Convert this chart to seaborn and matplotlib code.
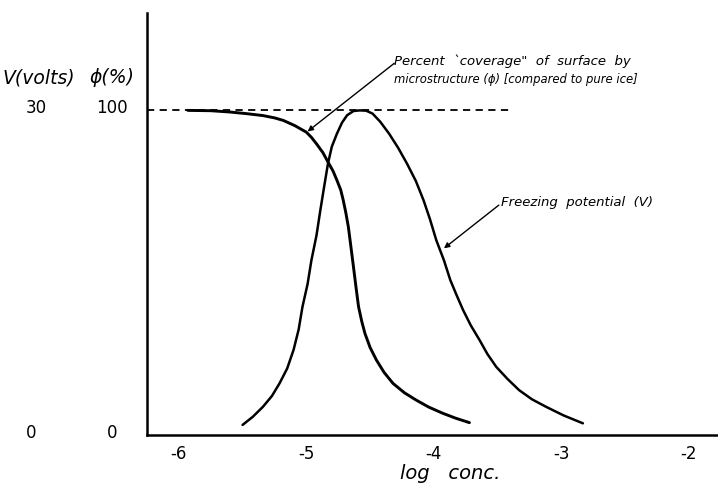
import matplotlib
matplotlib.use("Agg")
import matplotlib.pyplot as plt
import matplotlib.transforms as mtransforms
import pandas as pd
import seaborn as sns

# Percent coverage of surface by microstructure (phi), vs log concentration
phi_logc = [-5.93, -5.75, -5.60, -5.47, -5.34, -5.25, -5.18, -5.09, -5.00, -4.96,
            -4.92, -4.87, -4.83, -4.79, -4.76, -4.73, -4.71, -4.69, -4.67, -4.65,
            -4.63, -4.61, -4.59, -4.565, -4.54, -4.50, -4.45, -4.39, -4.32, -4.23,
            -4.14, -4.04, -3.93, -3.83, -3.72]
phi_pct = [100.0, 99.9, 99.5, 99.0, 98.4, 97.7, 96.9, 95.3, 93.3, 91.7,
           89.7, 87.0, 84.1, 81.3, 78.5, 75.5, 72.3, 68.5, 64.1, 58.0,
           51.8, 45.5, 39.5, 35.0, 31.3, 27.0, 23.1, 19.3, 15.9, 13.0,
           10.8, 8.6, 6.7, 5.2, 3.8]

# Freezing potential (V), on the shared 0-100 scale (30 V = 100)
v_logc = [-5.50, -5.42, -5.34, -5.27, -5.21, -5.15, -5.10, -5.06, -5.03, -4.99,
          -4.96, -4.92, -4.89, -4.86, -4.83, -4.80, -4.76, -4.72, -4.68, -4.63,
          -4.58, -4.53, -4.48, -4.42, -4.35, -4.28, -4.21, -4.14, -4.08, -4.03,
          -3.98, -3.92, -3.87, -3.82, -3.77, -3.71, -3.64, -3.58, -3.51, -3.42,
          -3.33, -3.23, -3.12, -2.98, -2.83]
v_pct = [3.1, 5.6, 8.7, 12.0, 15.9, 20.5, 26.2, 32.5, 39.5, 46.5,
         53.8, 61.5, 69.2, 76.5, 83.6, 88.8, 92.8, 96.2, 98.5, 99.8,
         100.0, 99.9, 99.0, 96.5, 92.8, 88.5, 83.6, 78.2, 72.3, 66.5,
         60.0, 53.8, 47.7, 43.0, 38.5, 33.8, 29.2, 25.0, 21.0, 17.2,
         13.8, 11.0, 8.7, 6.0, 3.6]

# Pure-ice reference level
ref_level = 100
ref_span = [-6.25, -3.39]

x_ticks = [-6, -5, -4, -3, -2]
x_ticklabels = ["-6", "-5", "-4", "-3", "-2"]
v_axis_labels = ["0", "30"]
phi_axis_labels = ["0", "100"]
label_levels = [0, 100]

sns.set_style("white")
plt.rcParams["font.family"] = ["DejaVu Sans"]
plt.rcParams["text.color"] = "black"
plt.rcParams["xtick.color"] = "black"
plt.rcParams["ytick.color"] = "black"

fig = plt.figure(figsize=(7.18, 4.87), dpi=100)
ax = fig.add_axes([0.2047, 0.1068, 0.7953, 0.8665])

phi_df = pd.DataFrame({"logc": phi_logc, "pct": phi_pct})
v_df = pd.DataFrame({"logc": v_logc, "pct": v_pct})
ref_df = pd.DataFrame({"logc": ref_span, "pct": [ref_level, ref_level]})

sns.lineplot(data=ref_df, x="logc", y="pct", ax=ax, color="black", lw=1.3,
             linestyle=(0, (4, 3)))
sns.lineplot(data=phi_df, x="logc", y="pct", ax=ax, color="black", lw=2.1)
sns.lineplot(data=v_df, x="logc", y="pct", ax=ax, color="black", lw=1.8)

ax.set_xlim(-6.25, -1.77)
ax.set_ylim(0, 130)

for side in ("top", "right"):
    ax.spines[side].set_visible(False)
for side in ("left", "bottom"):
    ax.spines[side].set_color("black")
    ax.spines[side].set_linewidth(1.8)

ax.set_xticks(x_ticks)
ax.set_xticklabels(x_ticklabels, fontsize=12)
ax.tick_params(axis="x", direction="in", length=4, width=1, pad=7)
ax.set_yticks([ref_level])
ax.set_yticklabels([])
ax.tick_params(axis="y", direction="in", length=4, width=1)
ax.set_xlabel("")
ax.set_ylabel("")

# Two-scale y labels drawn to the left of the axis
blend = mtransforms.blended_transform_factory(fig.transFigure, ax.transData)
for lvl, vl, pl in zip(label_levels, v_axis_labels, phi_axis_labels):
    ax.text(0.050 if lvl else 0.043, lvl + 0.6, vl, transform=blend,
            ha="center", va="center", fontsize=12)
    ax.text(0.156, lvl + 0.6, pl, transform=blend, ha="center", va="center",
            fontsize=12)
ax.text(0.003, 110, "V(volts)", transform=blend, ha="left", va="center",
        fontsize=13.5, style="italic")
ax.text(0.125, 110, "ϕ(%)", transform=blend, ha="left", va="center",
        fontsize=13.5, style="italic")

ax.text(0.531, -0.092, "log   conc.", transform=ax.transAxes, ha="center",
        va="center", fontsize=14, style="italic")

# Annotations
arrow = dict(arrowstyle="-|>", color="black", lw=1.0, mutation_scale=8,
             shrinkA=0, shrinkB=0)
ax.text(-4.31, 115.0, "Percent  `coverage\"  of  surface  by", ha="left",
        va="center", fontsize=9.5, style="italic")
ax.text(-4.31, 109.4, "microstructure (ϕ) [compared to pure ice]", ha="left",
        va="center", fontsize=8.4, style="italic")
ax.annotate("", xy=(-4.99, 93.5), xytext=(-4.31, 114.5), arrowprops=arrow)

ax.text(-3.47, 71.5, "Freezing  potential  (V)", ha="left", va="center",
        fontsize=9.5, style="italic")
ax.annotate("", xy=(-3.92, 57.5), xytext=(-3.49, 70.8), arrowprops=arrow)

fig.savefig("out.png", dpi=100)
